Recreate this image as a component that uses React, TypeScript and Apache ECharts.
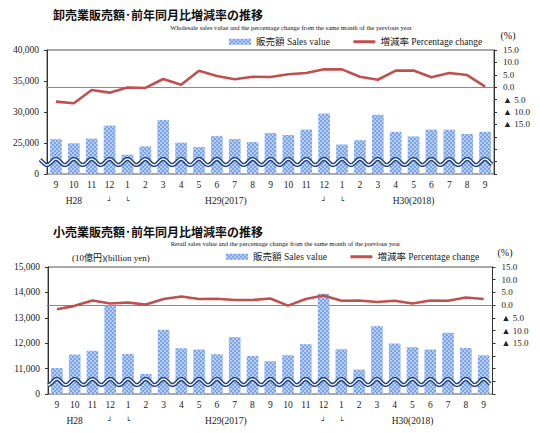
import React, { useEffect, useRef } from 'react';
import * as echarts from 'echarts';

const months = ['9', '10', '11', '12', '1', '2', '3', '4', '5', '6', '7', '8', '9', '10', '11', '12', '1', '2', '3', '4', '5', '6', '7', '8', '9'];
const yearMarks = ['', 'H28', '', '┘', '└', '', '', '', '', 'H29(2017)', '', '', '', '', '', '┘', '└', '', '', '', 'H30(2018)', '', '', '', ''];

const wholesaleSales = [25600, 24950, 25700, 27800, 23100, 24450, 28700, 25050, 24350, 26100, 25650, 25150, 26600, 26300, 27150, 29750, 24750, 25450, 29550, 26800, 26050, 27150, 27150, 26450, 26800];
const wholesaleChange = [-5.8, -6.5, -1.1, -2.2, -0.1, -0.3, 3.3, 1.0, 6.6, 4.5, 3.2, 4.2, 4.1, 5.2, 5.7, 7.2, 7.2, 4.2, 3.0, 6.7, 6.7, 4.0, 5.7, 4.9, 0.2];
const retailSales = [11020, 11550, 11700, 13470, 11580, 10790, 12525, 11800, 11750, 11565, 12240, 11500, 11290, 11525, 11960, 13950, 11760, 10960, 12670, 11985, 11840, 11750, 12410, 11815, 11525];
const retailChange = [-1.6, -0.3, 1.8, 0.6, 1.0, 0.2, 2.4, 3.4, 2.4, 2.5, 2.0, 2.0, 2.6, -0.2, 2.4, 3.8, 1.7, 1.8, 1.2, 1.7, 0.6, 1.8, 1.7, 3.0, 2.4];

const wholesaleTickLabels = ['0', '25,000', '30,000', '35,000', '40,000'];
const retailTickLabels = ['0', '11,000', '12,000', '13,000', '14,000', '15,000'];
const changeTickLabels = ['', '', '', '', '▲ 15.0', '▲ 10.0', '▲ 5.0', '0.0', '5.0', '10.0', '15.0'];

const SALES = '販売額 Sales value';
const CHANGE = '増減率 Percentage change';
const FONT = "'Liberation Serif', 'Noto Sans CJK JP', serif";
const CJK = "'Noto Sans CJK JP', sans-serif";
const BAR_COLOR = '#7aa3e8';
const LINE_COLOR = '#c0504d';
const AXIS_COLOR = '#333';

function waveRender(startPad: number) {
  return (params: any, api: any) => {
    const cs = params.coordSys;
    const band = api.size([1, 0])[0];
    const x0 = api.coord([0, 0])[0];
    const base = cs.y + cs.height - 12;
    const amp = 3;
    const pts: number[][] = [];
    for (let x = cs.x - startPad; x <= cs.x + cs.width - 2; x += 1) {
      pts.push([x, base - amp * Math.cos((2 * Math.PI * (x - x0)) / band)]);
    }
    return {
      type: 'group',
      children: [
        { type: 'polyline', shape: { points: pts }, style: { stroke: '#22427d', lineWidth: 4.2, fill: null } },
        { type: 'polyline', shape: { points: pts }, style: { stroke: '#ffffff', lineWidth: 1.3, fill: null } },
      ],
    };
  };
}

function xAxisFor(gridIndex: number) {
  return {
    type: 'category',
    gridIndex,
    data: months,
    axisLine: { lineStyle: { color: '#111', width: 1 } },
    axisTick: { show: false },
    axisLabel: {
      interval: 0,
      margin: 3,
      color: '#222',
      fontSize: 9.5,
      fontFamily: FONT,
      lineHeight: 16,
      formatter: (value: string, index: number) => {
        const y = yearMarks[index];
        if (!y) return value;
        if (y === '┘' || y === '└') return value + '\n{b|' + y + '}';
        if (y.startsWith('H29')) return value + '\n{s|' + y + '}';
        return value + '\n{y|' + y + '}';
      },
      rich: {
        y: { fontSize: 9.5, fontFamily: FONT, color: '#222', lineHeight: 16 },
        s: { fontSize: 9.5, fontFamily: FONT, color: '#222', lineHeight: 16, padding: [0, 0, 0, 18] },
        b: { fontSize: 7, fontFamily: "'DejaVu Sans', sans-serif", color: '#222', lineHeight: 16 },
      },
    },
  };
}

function leftAxis(gridIndex: number, min: number, max: number, interval: number, labels: string[]) {
  return {
    type: 'value',
    gridIndex,
    min,
    max,
    interval,
    position: 'left',
    axisLine: { show: true, lineStyle: { color: AXIS_COLOR } },
    axisTick: { show: true, length: 3, lineStyle: { color: AXIS_COLOR } },
    splitLine: { show: false },
    axisLabel: {
      margin: 8,
      color: '#222',
      fontSize: 9.5,
      fontFamily: FONT,
      formatter: (_v: number, i: number) => labels[i],
    },
  };
}

function rightAxis(gridIndex: number) {
  return {
    type: 'value',
    gridIndex,
    min: -35,
    max: 15,
    interval: 5,
    position: 'right',
    axisLine: { show: true, lineStyle: { color: AXIS_COLOR } },
    axisTick: { show: true, length: 3, lineStyle: { color: AXIS_COLOR } },
    splitLine: { show: false },
    axisLabel: {
      margin: 9,
      color: '#222',
      fontSize: 9,
      fontFamily: FONT,
      formatter: (_v: number, i: number) => changeTickLabels[i],
    },
  };
}

const barItemStyle = {
  color: BAR_COLOR,
  decal: {
    symbol: 'rect',
    symbolSize: 1,
    dashArrayX: [[1.5, 1.5], [0, 1.5, 1.5, 0]],
    dashArrayY: [1.5, 0],
    color: 'rgba(255,255,255,0.45)',
  },
};

function seriesFor(gridIndex: number, sales: number[], change: number[], padLeft: number) {
  const xi = gridIndex;
  const yl = gridIndex * 2;
  const yr = gridIndex * 2 + 1;
  return [
    {
      type: 'bar',
      name: SALES,
      xAxisIndex: xi,
      yAxisIndex: yl,
      data: sales,
      barWidth: '65%',
      itemStyle: barItemStyle,
      z: 2,
    },
    {
      type: 'custom',
      xAxisIndex: xi,
      yAxisIndex: yl,
      data: [[0, 0]],
      renderItem: waveRender(padLeft),
      silent: true,
      z: 3,
    },
    {
      type: 'line',
      name: CHANGE,
      xAxisIndex: xi,
      yAxisIndex: yr,
      data: change,
      symbol: 'none',
      showSymbol: false,
      lineStyle: { color: LINE_COLOR, width: 2.6 },
      itemStyle: { color: LINE_COLOR },
      z: 4,
      markLine: {
        silent: true,
        symbol: 'none',
        z: 1,
        label: { show: false },
        lineStyle: { color: '#8a8a8a', width: 1, type: 'solid' },
        data: [{ yAxis: 0 }],
      },
    },
  ];
}

function legendFor(left: number, top: number) {
  return {
    left,
    top,
    padding: 0,
    itemWidth: 22,
    itemHeight: 6,
    itemGap: 22,
    textStyle: { fontSize: 9.5, fontFamily: FONT, color: '#222' },
    data: [
      { name: SALES, icon: 'rect' },
      { name: CHANGE, itemStyle: { opacity: 0 }, lineStyle: { width: 3, color: LINE_COLOR } },
    ],
  };
}

function textEl(text: string, x: number, y: number, style: any) {
  return {
    type: 'text',
    x,
    y,
    silent: true,
    style: { text, fill: '#111', verticalAlign: 'middle', align: 'left', ...style },
  };
}

export default function App() {
  const ref = useRef<HTMLDivElement>(null);
  useEffect(() => {
    if (!ref.current) return;
    const chart = echarts.init(ref.current, undefined, { renderer: 'svg' });
    chart.setOption({
      animation: false,
      backgroundColor: '#ffffff',
      grid: [
        { left: 47, right: 46, top: 50, height: 124, show: true, borderColor: '#555', borderWidth: 1 },
        { left: 48, right: 47.5, top: 267, height: 127, show: true, borderColor: '#555', borderWidth: 1 },
      ],
      legend: [legendFor(229, 37), legendFor(226, 252)],
      xAxis: [xAxisFor(0), xAxisFor(1)],
      yAxis: [
        leftAxis(0, 20000, 40000, 5000, wholesaleTickLabels),
        rightAxis(0),
        leftAxis(1, 10000, 15000, 1000, retailTickLabels),
        rightAxis(1),
      ],
      series: [
        ...seriesFor(0, wholesaleSales, wholesaleChange, 7),
        ...seriesFor(1, retailSales, retailChange, 0),
      ],
      graphic: [
        textEl('卸売業販売額･前年同月比増減率の推移', 53, 14.5, { fontSize: 12, fontWeight: 'bold', fontFamily: CJK }),
        textEl('Wholesale sales value and the percentage change from the same month of the previous year', 291, 27, { fontSize: 6.6, fontFamily: FONT, align: 'center' }),
        textEl('(%)', 508, 35, { fontSize: 10, fontFamily: FONT, align: 'center' }),
        textEl('小売業販売額･前年同月比増減率の推移', 53, 231.5, { fontSize: 12, fontWeight: 'bold', fontFamily: CJK }),
        textEl('Retail sales value and the percentage change from the same month of the previous year', 285.5, 243, { fontSize: 6.6, fontFamily: FONT, align: 'center' }),
        textEl('(10億円)(billion yen)', 72, 257.7, { fontSize: 9, fontFamily: FONT }),
        textEl('(%)', 505, 252.7, { fontSize: 10, fontFamily: FONT, align: 'center' }),
      ],
    });
    return () => chart.dispose();
  }, []);
  return <div ref={ref} style={{ position: 'absolute', left: 0, top: 0, width: 540, height: 433 }} />;
}
